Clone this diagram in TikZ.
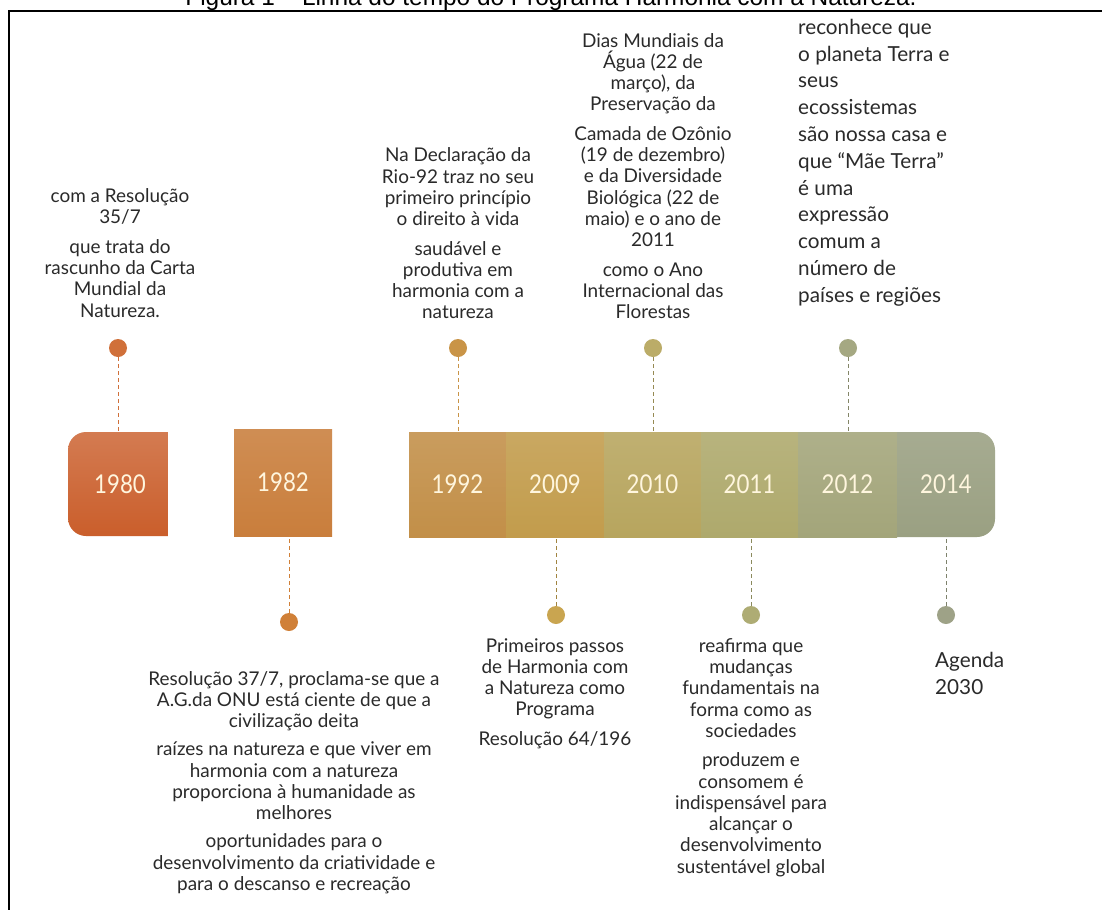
\documentclass[tikz,border=0pt]{standalone}
\usepackage{graphicx}
\usepackage{fontspec}
\setmainfont{Lato}
\newfontfamily\titlefont{Liberation Sans}
\definecolor{txt}{HTML}{2A2A2A}
\definecolor{cream}{HTML}{FFF6DE}
\definecolor{cA}{HTML}{CA5E2B}
\definecolor{cB}{HTML}{C97E3C}
\definecolor{cC}{HTML}{C28F48}
\definecolor{cD}{HTML}{C29C4C}
\definecolor{cE}{HTML}{B7A55E}
\definecolor{cF}{HTML}{AEA96C}
\definecolor{cG}{HTML}{A3A57A}
\definecolor{cH}{HTML}{9AA082}
\definecolor{dA}{HTML}{D0703A}
\definecolor{dB}{HTML}{D08038}
\definecolor{dC}{HTML}{C99447}
\definecolor{dD}{HTML}{C9A550}
\definecolor{dE}{HTML}{BBAC68}
\definecolor{dF}{HTML}{AEAC74}
\definecolor{dG}{HTML}{A5A882}
\definecolor{dH}{HTML}{9EA287}
\newcommand{\yr}[1]{\scalebox{0.86}[1]{#1}}
\begin{document}
\begin{tikzpicture}[x=1bp,y=-1bp,
  evtext/.style={font=\fontsize{19}{21.3}\selectfont, align=center, inner sep=0pt, text=txt},
  evleft/.style={font=\fontsize{20.8}{26.9}\selectfont, align=left, inner sep=0pt, text=txt, anchor=west},
  yeartext/.style={font=\fontsize{26}{26}\selectfont, text=cream, minimum width=98bp, minimum height=104bp, inner sep=0pt},
  dotn/.style={circle, minimum size=18bp, inner sep=0pt},
  link/.style={dash pattern=on 4bp off 3bp, line width=1bp}]
\useasboundingbox (0,0) rectangle (1102,910);
\fill[white] (0,0) rectangle (1102,910);
% title (cut off at top, as in the source)
\node[font=\titlefont\fontsize{24.5}{24.5}\selectfont, anchor=base, inner sep=0pt] (title) at (551,5) {Figura 1 – Linha do tempo do Programa Harmonia com a Natureza.};
% frame
\draw[line width=2bp] (8.5,910) -- (8.5,10.5) -- (1102,10.5);
% boxes
\shade[top color=cA!82!white, bottom color=cA] (168,432) -- (86,432) arc[start angle=90, end angle=180, radius=18bp] -- (68,518) arc[start angle=180, end angle=270, radius=18bp] -- (168,536) -- cycle;
\shade[top color=cB!88!white, bottom color=cB] (234,429) rectangle (332,536);
\shade[top color=cC!88!white, bottom color=cC] (409,432) rectangle (506,537);
\shade[top color=cD!88!white, bottom color=cD] (506,432) rectangle (604,537);
\shade[top color=cE!88!white, bottom color=cE] (604,432) rectangle (701,537);
\shade[top color=cF!88!white, bottom color=cF] (701,432) rectangle (798,537);
\shade[top color=cG!88!white, bottom color=cG] (798,432) rectangle (897,537);
\shade[top color=cH!88!white, bottom color=cH] (897,432) -- (977,432) arc[start angle=90, end angle=0, radius=18bp] -- (995,519) arc[start angle=0, end angle=-90, radius=18bp] -- (897,537) -- cycle;
% year labels
\node[yeartext] (y1980) at (120,484) {\yr{1980}};
\node[yeartext] (y1982) at (283,482.5) {\yr{1982}};
\node[yeartext] (y1992) at (457.5,484.5) {\yr{1992}};
\node[yeartext] (y2009) at (555,484.5) {\yr{2009}};
\node[yeartext] (y2010) at (652.5,484.5) {\yr{2010}};
\node[yeartext] (y2011) at (749.5,484.5) {\yr{2011}};
\node[yeartext] (y2012) at (847.5,484.5) {\yr{2012}};
\node[yeartext] (y2014) at (946,484.5) {\yr{2014}};
% dots
\node[dotn, fill=dA] (d1980) at (118,348) {};
\node[dotn, fill=dC] (d1992) at (458,348) {};
\node[dotn, fill=dE] (d2010) at (653,348) {};
\node[dotn, fill=dG] (d2012) at (848,348) {};
\node[dotn, fill=dB] (d1982) at (289,622) {};
\node[dotn, fill=dD] (d2009) at (556,615) {};
\node[dotn, fill=dF] (d2011) at (751,615) {};
\node[dotn, fill=dH] (d2014) at (946,615) {};
% connectors
\draw[link, draw=dA] (d1980.south) -- (d1980.south |- y1980.north);
\draw[link, draw=dC] (d1992.south) -- (d1992.south |- y1992.north);
\draw[link, draw=dE!80!black] (d2010.south) -- (d2010.south |- y2010.north);
\draw[link, draw=dG!80!black] (d2012.south) -- (d2012.south |- y2012.north);
\draw[link, draw=dB] (d1982.north) -- (d1982.north |- y1982.south);
\draw[link, draw=dD!80!black] (d2009.north) -- (d2009.north |- y2009.south);
\draw[link, draw=dF!80!black] (d2011.north) -- (d2011.north |- y2011.south);
\draw[link, draw=dH!80!black] (d2014.north) -- (d2014.north |- y2014.south);
% texts above
\node[evtext] (t1980) at (120,253) {com a Resolução\\35/7\\[8.5bp]que trata do\\rascunho da Carta\\Mundial da\\Natureza.};
\node[evtext] (t1992) at (458,233.5) {Na Declaração da\\Rio-92 traz no seu\\primeiro princípio\\o direito à vida\\[8.5bp]saudável e\\produtiva em\\harmonia com a\\natureza};
\node[evtext] (t2010) at (653,176) {Dias Mundiais da\\Água (22 de\\março), da\\Preservação da\\[8.5bp]Camada de Ozônio\\(19 de dezembro)\\e da Diversidade\\Biológica (22 de\\maio) e o ano de\\2011\\[8.5bp]como o Ano\\Internacional das\\Florestas};
\node[evleft] (t2012) at (798,162.5) {reconhece que\\o planeta Terra e\\seus\\ecossistemas\\são nossa casa e\\que “Mãe Terra”\\é uma\\expressão\\comum a\\número de\\países e regiões};
% texts below
\node[evtext] (t1982) at (294,782.5) {Resolução 37/7, proclama-se que a\\A.G.da ONU está ciente de que a\\civilização deita\\[7bp]raízes na natureza e que viver em\\harmonia com a natureza\\proporciona à humanidade as\\melhores\\[7bp]oportunidades para o\\desenvolvimento da criatividade e\\para o descanso e recreação};
\node[evtext] (t2009) at (555,693.5) {Primeiros passos\\de Harmonia com\\a Natureza como\\Programa\\[8.5bp]Resolução 64/196};
\node[evtext] (t2011) at (751,757.5) {reafirma que\\mudanças\\fundamentais na\\forma como as\\sociedades\\[8.5bp]produzem e\\consomem é\\indispensável para\\alcançar o\\desenvolvimento\\sustentável global};
\node[evleft] (t2014) at (935,673.5) {Agenda\\2030};
\end{tikzpicture}
\end{document}
